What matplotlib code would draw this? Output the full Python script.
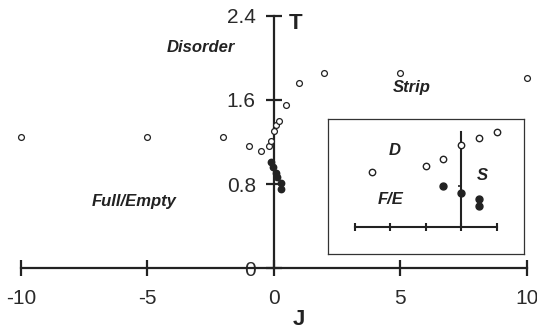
import matplotlib.pyplot as plt

# main phase diagram
open_J = [-10, -5, -2, -1, -0.5, -0.2, -0.1, 0, 0.1, 0.2, 0.5, 1, 2, 5, 10]
open_T = [1.25, 1.25, 1.25, 1.16, 1.11, 1.16, 1.21, 1.30, 1.36, 1.40, 1.55, 1.76, 1.86, 1.86, 1.81]
fill_J = [-0.12, -0.02, 0.07, 0.11, 0.28, 0.28]
fill_T = [1.01, 0.96, 0.91, 0.87, 0.81, 0.75]
xticks = [-10, -5, 0, 5, 10]
yticks = [0, 0.8, 1.6, 2.4]

# inset
in_open_x = [-2.5, -1, -0.5, 0, 0.5, 1]
in_open_y = [1.63, 1.83, 2.03, 2.44, 2.65, 2.85]
in_fill_x = [-0.5, 0, 0.5, 0.5]
in_fill_y = [1.23, 1.02, 0.83, 0.61]
in_xticks = [-3, -2, -1, 0, 1]


def main():
	plt.rcParams['font.family'] = ['Liberation Sans', 'DejaVu Sans']
	fig = plt.figure(figsize=(5.37, 3.31), dpi=100)

	ax = fig.add_axes([0.0391, 0.1894, 0.9417, 0.7632])
	ax.set_xlim(-10, 10)
	ax.set_ylim(0, 2.4)
	ax.patch.set_alpha(0)
	for s in ['top', 'right']:
		ax.spines[s].set_visible(False)
	ax.spines['left'].set_position(('data', 0))
	ax.spines['bottom'].set_position(('data', 0))
	for s in ['left', 'bottom']:
		ax.spines[s].set_linewidth(1.6)
		ax.spines[s].set_color('#222222')
	ax.set_xticks(xticks)
	ax.set_xticklabels(['-10', '-5', '0', '5', '10'])
	ax.set_yticks(yticks)
	ax.set_yticklabels(['0', '0.8', '1.6', '2.4'])
	ax.tick_params(direction='inout', length=12, width=1.6, color='#222222',
		labelsize=15, labelcolor='#2a2a2a')
	ax.tick_params(axis='x', pad=9)
	ax.tick_params(axis='y', pad=7)

	ax.plot(open_J, open_T, 'o', ms=4.2, mfc='white', mec='#222222', mew=0.9, clip_on=False, zorder=5)
	ax.plot(fill_J, fill_T, 'o', ms=4.6, mfc='#222222', mec='#222222', clip_on=False, zorder=5)

	style = dict(fontsize=12, fontweight='bold', fontstyle='italic', color='#222222',
		ha='center', va='center')
	ax.text(-2.88, 2.10, 'Disorder', **style)
	ax.text(5.45, 1.72, 'Strip', **style)
	ax.text(-5.52, 0.63, 'Full/Empty', **style)
	ax.text(0.85, 2.33, 'T', fontsize=16, fontweight='bold', color='#222222', ha='center', va='center')
	ax.text(1.0, -0.49, 'J', fontsize=16, fontweight='bold', color='#222222', ha='center', va='center')

	# inset frame
	box = fig.add_axes([0.6108, 0.2341, 0.3641, 0.4054])
	box.set_xticks([])
	box.set_yticks([])
	for s in box.spines.values():
		s.set_linewidth(0.9)
		s.set_color('#333333')

	ins = fig.add_axes([0.6605, 0.3151, 0.2644, 0.2870])
	ins.set_xlim(-3, 1)
	ins.set_ylim(0, 2.85)
	ins.patch.set_alpha(0)
	for s in ['top', 'right']:
		ins.spines[s].set_visible(False)
	ins.spines['left'].set_position(('data', 0))
	ins.spines['bottom'].set_position(('data', 0))
	for s in ['left', 'bottom']:
		ins.spines[s].set_linewidth(1.5)
		ins.spines[s].set_color('#222222')
	ins.set_xticks(in_xticks)
	ins.set_xticklabels([])
	ins.set_yticks([1.22])
	ins.set_yticklabels([])
	ins.tick_params(axis='x', direction='inout', length=6, width=1.5, color='#222222')
	ins.tick_params(axis='y', direction='out', length=2.5, width=1.2, color='#222222')

	ins.plot(in_open_x, in_open_y, 'o', ms=4.6, mfc='white', mec='#222222', mew=1.0, clip_on=False, zorder=5)
	ins.plot(in_fill_x, in_fill_y, 'o', ms=5.0, mfc='#222222', mec='#222222', clip_on=False, zorder=5)
	ins.text(-1.87, 2.30, 'D', **style)
	ins.text(0.61, 1.55, 'S', **style)
	ins.text(-1.98, 0.82, 'F/E', **style)

	fig.savefig('out.png', dpi=100)


if __name__ == '__main__':
	main()
